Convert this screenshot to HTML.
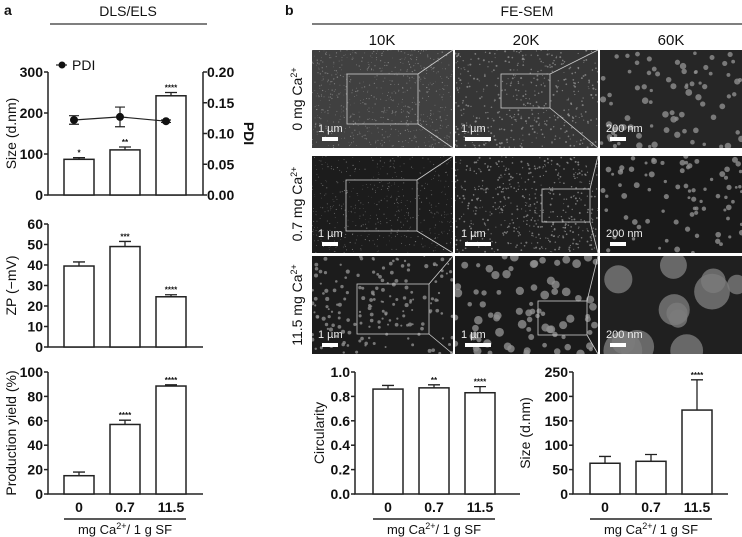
<!DOCTYPE html>
<html><head><meta charset="utf-8"><style>
html,body{margin:0;padding:0;background:#fff}
svg{display:block;font-family:"Liberation Sans",Arial,sans-serif}
</style></head><body>
<svg id="fig" width="742" height="537" viewBox="0 0 742 537" xmlns="http://www.w3.org/2000/svg">
<g id="static" fill="#111">
<text x="4" y="15" font-size="14" font-weight="bold">a</text>
<text x="128" y="16" font-size="14" text-anchor="middle">DLS/ELS</text>
<line x1="50" y1="24" x2="207" y2="24" stroke="#333" stroke-width="1.2"/>
<text x="285" y="15" font-size="14" font-weight="bold">b</text>
<text x="527" y="16" font-size="14" text-anchor="middle">FE-SEM</text>
<line x1="312" y1="24" x2="742" y2="24" stroke="#333" stroke-width="1.2"/>
<text x="382" y="45" font-size="15" text-anchor="middle">10K</text>
<text x="526" y="45" font-size="15" text-anchor="middle">20K</text>
<text x="671" y="45" font-size="15" text-anchor="middle">60K</text>
<text transform="translate(302,99) rotate(-90)" font-size="14" text-anchor="middle">0 mg Ca<tspan dy="-5" font-size="9">2+</tspan></text>
<text transform="translate(302,204) rotate(-90)" font-size="14" text-anchor="middle">0.7 mg Ca<tspan dy="-5" font-size="9">2+</tspan></text>
<text transform="translate(302,305) rotate(-90)" font-size="14" text-anchor="middle">11.5 mg Ca<tspan dy="-5" font-size="9">2+</tspan></text>
</g>
<g id="sem"></g>
<g id="charts"></g>
</svg>
<script>
// ---- chart data ----
const cats = ["0", "0.7", "11.5"];
const sizeVals = [87, 110, 242];
const sizeErr = [4, 7, 8];
const sizeStars = ["*", "**", "****"];
const pdiVals = [0.122, 0.127, 0.120];
const pdiErr = [0.007, 0.016, 0.002];
const zpVals = [39.5, 49, 24.5];
const zpErr = [2, 2.5, 1];
const zpStars = ["", "***", "****"];
const yieldVals = [15, 57, 88.5];
const yieldErr = [3, 3.5, 1];
const yieldStars = ["", "****", "****"];
const circVals = [0.86, 0.87, 0.83];
const circErr = [0.03, 0.025, 0.05];
const circStars = ["", "**", "****"];
const semSizeVals = [63, 67, 172];
const semSizeErr = [14, 14, 62];
const semSizeStars = ["", "", "****"];
const sizeTicks = [0, 100, 200, 300];
const pdiTicks = ["0.00", "0.05", "0.10", "0.15", "0.20"];
const zpTicks = [0, 10, 20, 30, 40, 50, 60];
const yieldTicks = [0, 20, 40, 60, 80, 100];
const circTicks = ["0.0", "0.2", "0.4", "0.6", "0.8", "1.0"];
const semSizeTicks = [0, 50, 100, 150, 200, 250];

const NS = "http://www.w3.org/2000/svg";
function mk(parent, tag, attrs, txt) {
  const e = document.createElementNS(NS, tag);
  for (const k in attrs) e.setAttribute(k, attrs[k]);
  if (txt !== undefined) e.textContent = txt;
  parent.appendChild(e);
  return e;
}
const chartsG = document.getElementById("charts");

function caLabel(t) {
  mk(t, "tspan", {}, "mg Ca");
  mk(t, "tspan", {dy: -5, "font-size": 9}, "2+");
  mk(t, "tspan", {dy: 5}, "/ 1 g SF");
}

function barChart(o) {
  const g = mk(chartsG, "g", {});
  
  
  const y = v => o.yBot - (v / o.max) * (o.yBot - o.yTop);
  const xc = i => o.first + i * o.step;
  const ax = mk(g, "path", {d: `M${o.ax} ${o.yTop}V${o.yBot}H${o.axEnd}`, fill: "none", stroke: "#222", "stroke-width": 1.5});
  
  
  o.ticks.forEach(t => {
    const v = parseFloat(t), yy = y(v);
    mk(g, "line", {x1: o.ax - 4, x2: o.ax, y1: yy, y2: yy, stroke: "#222", "stroke-width": 1.5});
    const tx = mk(g, "text", {x: o.ax - 5, y: yy + 5, "font-size": 14, "font-weight": "bold", "text-anchor": "end", fill: "#111"}, String(t));
    
    
  });
  o.vals.forEach((v, i) => {
    const cx = xc(i), tp = y(v), et = y(v + o.err[i]);
    const r = mk(g, "rect", {x: cx - 15, y: tp, width: 30, height: o.yBot - tp, fill: "#fff", stroke: "#222", "stroke-width": 1.5});
    
    
    mk(g, "path", {d: `M${cx} ${tp}V${et}M${cx - 6} ${et}H${cx + 6}`, stroke: "#222", "stroke-width": 1.3, fill: "none"});
    if (o.stars && o.stars[i]) {
      const s = mk(g, "text", {x: cx, y: et - 2, "font-size": 8, "font-weight": "bold", "text-anchor": "middle", fill: "#111"}, o.stars[i]);
      
      
    }
    if (o.xlabels) {
      const xl = mk(g, "text", {x: cx, y: o.yBot + 18, "font-size": 14, "font-weight": "bold", "text-anchor": "middle", fill: "#111"}, cats[i]);
      
      
    }
  });
  if (o.xlabels) {
    mk(g, "line", {x1: xc(0) - 15, x2: xc(2) + 15, y1: o.yBot + 25, y2: o.yBot + 25, stroke: "#222", "stroke-width": 1.5});
    const t = mk(g, "text", {x: xc(1), y: o.yBot + 40, "font-size": 13, "text-anchor": "middle", fill: "#111"});
    caLabel(t);
    
    
  }
  const yl = mk(g, "text", {transform: `translate(${o.ylx},${(o.yTop + o.yBot) / 2}) rotate(-90)`, "font-size": 14, "text-anchor": "middle", fill: "#111"}, o.ylabel);
  
  
  return {g, y, xc};
}

const sizeChart = barChart({name: "size-pdi-chart", ax: 48, axEnd: 203, yTop: 72, yBot: 195, max: 300, ticks: sizeTicks, vals: sizeVals, err: sizeErr, stars: sizeStars, first: 79, step: 46, ylabel: "Size (d.nm)", ylx: 16});
(function () {
  const g = sizeChart.g, yB = 195, yT = 72;
  const py = v => yB - (v / 0.2) * (yB - yT);
  mk(g, "line", {x1: 203, x2: 203, y1: yT, y2: yB, stroke: "#222", "stroke-width": 1.5});
  pdiTicks.forEach(t => {
    const yy = py(parseFloat(t));
    mk(g, "line", {x1: 203, x2: 207, y1: yy, y2: yy, stroke: "#222", "stroke-width": 1.5});
    const tx = mk(g, "text", {x: 207, y: yy + 5, "font-size": 14, "font-weight": "bold", fill: "#111"}, t);
    
    
  });
  const yl = mk(g, "text", {transform: `translate(244,${(yT + yB) / 2}) rotate(90)`, "font-size": 14, "font-weight": "bold", "text-anchor": "middle", fill: "#111"}, "PDI");
  
  
  const pts = pdiVals.map((v, i) => [sizeChart.xc(i) - 5, py(v)]);
  const ln = mk(g, "polyline", {points: pts.map(p => p.join(",")).join(" "), fill: "none", stroke: "#222", "stroke-width": 1.2});
  
  
  pdiVals.forEach((v, i) => {
    const x = pts[i][0], a = py(v + pdiErr[i]), b = py(v - pdiErr[i]);
    mk(g, "path", {d: `M${x} ${a}V${b}M${x - 5} ${a}H${x + 5}M${x - 5} ${b}H${x + 5}`, stroke: "#222", "stroke-width": 1.2, fill: "none"});
    const c = mk(g, "circle", {cx: x, cy: pts[i][1], r: 4, fill: "#111"});
    
    
  });
  const lg = mk(g, "g", {});
  
  
  mk(lg, "line", {x1: 56, x2: 67, y1: 65, y2: 65, stroke: "#222", "stroke-width": 1.2});
  mk(lg, "circle", {cx: 62, cy: 65, r: 3.5, fill: "#111"});
  mk(lg, "text", {x: 72, y: 70, "font-size": 14, fill: "#111"}, "PDI");
})();
barChart({name: "zeta-potential-chart", ax: 48, axEnd: 203, yTop: 224, yBot: 347, max: 60, ticks: zpTicks, vals: zpVals, err: zpErr, stars: zpStars, first: 79, step: 46, ylabel: "ZP (\u2212mV)", ylx: 16});
barChart({name: "production-yield-chart", ax: 48, axEnd: 203, yTop: 372, yBot: 494, max: 100, ticks: yieldTicks, vals: yieldVals, err: yieldErr, stars: yieldStars, first: 79, step: 46, xlabels: true, ylabel: "Production yield (%)", ylx: 16});
barChart({name: "circularity-chart", ax: 355, axEnd: 520, yTop: 372, yBot: 494, max: 1.0, ticks: circTicks, vals: circVals, err: circErr, stars: circStars, first: 388, step: 46, xlabels: true, ylabel: "Circularity", ylx: 324});
barChart({name: "sem-size-chart", ax: 573, axEnd: 728, yTop: 372, yBot: 494, max: 250, ticks: semSizeTicks, vals: semSizeVals, err: semSizeErr, stars: semSizeStars, first: 605, step: 46, xlabels: true, ylabel: "Size (d.nm)", ylx: 530});

// ---- SEM image mockups (decorative texture) ----
(function () {
  const sem = document.getElementById("sem");
  let seed = 7;
  const rnd = () => { seed = (seed * 16807) % 2147483647; return seed / 2147483647; };
  const cols = [[312, 141], [455, 143], [600, 142]];
  const rows = [[50, 98], [156, 97], [256, 98]];
  const bgs = [["#404040", "#363636", "#262626"], ["#1c1c1c", "#202020", "#1a1a1a"], ["#1c1c1c", "#1a1a1a", "#202020"]];
  const dotR = [[0.5, 0.8, 2.6], [0.45, 0.8, 2.3], [1.6, 3.4, 15]];
  const counts = [[700, 450, 80], [500, 500, 80], [170, 80, 12]];
  const scaleTxt = ["1 \u00b5m", "1 \u00b5m", "200 nm"];
  rows.forEach((r, ri) => cols.forEach((c, ci) => {
    const g = mk(sem, "g", {});
    
    
    mk(g, "rect", {x: c[0], y: r[0], width: c[1], height: r[1], fill: bgs[ri][ci]});
    const clip = "clip" + ri + ci;
    const cp = mk(g, "clipPath", {id: clip});
    mk(cp, "rect", {x: c[0], y: r[0], width: c[1], height: r[1]});
    const dg = mk(g, "g", {"clip-path": `url(#${clip})`});
    for (let k = 0; k < counts[ri][ci]; k++) {
      const rr = dotR[ri][ci] * (0.6 + rnd() * 0.7);
      mk(dg, "circle", {cx: c[0] + rnd() * c[1], cy: r[0] + rnd() * r[1], r: rr, fill: ri === 2 && ci === 2 ? "#7a7a7a" : "#8e8e8e", opacity: 0.8});
    }
    const bw = ci === 1 ? 26 : 16;
    mk(g, "text", {x: c[0] + 6, y: r[0] + r[1] - 16, "font-size": 11, fill: "#eee"}, scaleTxt[ci]);
    mk(g, "rect", {x: c[0] + 10, y: r[0] + r[1] - 11, width: bw, height: 4, fill: "#fff"});
  }));
  const boxes = [
    [347, 74, 71, 50, 453, 50, 453, 148],
    [501, 74, 49, 34, 598, 50, 598, 148],
    [346, 180, 71, 51, 453, 156, 453, 253],
    [542, 189, 48, 33, 598, 156, 598, 253],
    [357, 284, 72, 50, 453, 256, 453, 354],
    [538, 301, 49, 34, 598, 256, 598, 354]
  ];
  boxes.forEach(b => {
    mk(sem, "rect", {x: b[0], y: b[1], width: b[2], height: b[3], fill: "none", stroke: "#ccc", "stroke-width": 0.8});
    mk(sem, "path", {d: `M${b[0] + b[2]} ${b[1]}L${b[4]} ${b[5]}M${b[0] + b[2]} ${b[1] + b[3]}L${b[6]} ${b[7]}`, stroke: "#ccc", "stroke-width": 0.8, fill: "none"});
  });
})();
</script>
</body></html>
